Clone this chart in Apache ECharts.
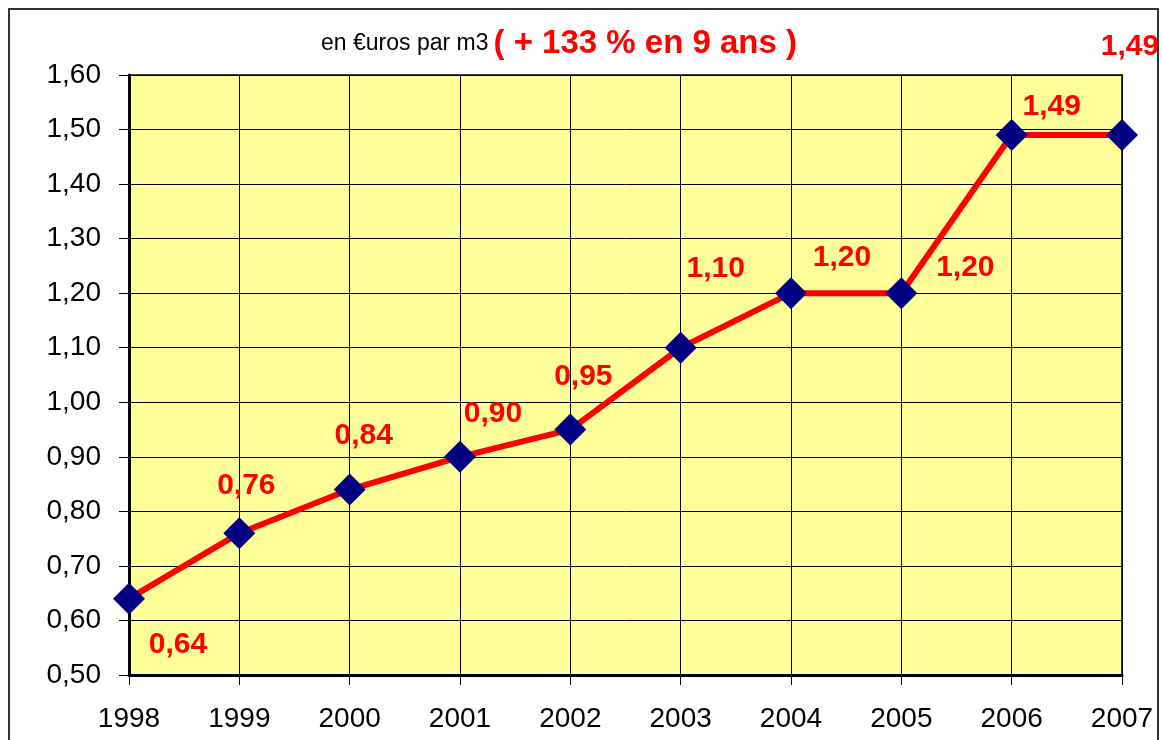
<!DOCTYPE html>
<html>
<head>
<meta charset="utf-8">
<script src="https://cdn.jsdelivr.net/npm/echarts@6/dist/echarts.min.js"></script>
<style>
  html, body { margin: 0; padding: 0; background: #fff; }
  #chart { width: 1162px; height: 740px; }
</style>
</head>
<body>
<div id="chart"></div>
<script>
var years = ['1998', '1999', '2000', '2001', '2002', '2003', '2004', '2005', '2006', '2007'];
var prices = [0.64, 0.76, 0.84, 0.90, 0.95, 1.10, 1.20, 1.20, 1.49, 1.49];

// where each value label sits relative to its point (px)
var labelOffsets = [[49, 46], [7, -47], [14, -54], [33, -43], [13, -53],
                    [35, -79], [51, -35], [64, -25], [40, -28], [8, -88]];

function fmt(v) {
    return v.toFixed(2).replace('.', ',');
}

var myChart = echarts.init(document.getElementById('chart'));

var option = {
    animation: false,
    textStyle: { fontFamily: 'Liberation Sans, Arial, sans-serif' },
    title: {
        left: 316,
        top: 22,
        text: '{a|en €uros par m3} {b|( + 133 % en 9 ans )}',
        textStyle: {
            fontWeight: 'normal',
            rich: {
                a: { fontSize: 23, color: '#000', fontWeight: 'normal', fontFamily: 'Liberation Sans' },
                b: { fontSize: 33, color: '#FF0000', fontWeight: 'bold', fontFamily: 'Liberation Sans' }
            }
        }
    },
    graphic: [{
        type: 'rect',
        shape: { x: 9, y: 9, width: 1149, height: 760 },
        style: { fill: 'none', stroke: '#333', lineWidth: 2 },
        z: -1
    }],
    grid: {
        left: 129,
        right: 40,
        top: 75,
        bottom: 65,
        show: true,
        backgroundColor: '#FFFF99',
        borderColor: '#000',
        borderWidth: 1.5
    },
    xAxis: {
        type: 'category',
        data: years,
        boundaryGap: false,
        axisLine: { lineStyle: { color: '#000', width: 3 } },
        axisTick: { show: true, length: 10, lineStyle: { color: '#000', width: 1 } },
        axisLabel: { color: '#000', fontSize: 28, margin: 30 },
        splitLine: { show: true, lineStyle: { color: '#000', width: 1 } }
    },
    yAxis: {
        type: 'value',
        min: 0.5,
        max: 1.6,
        interval: 0.1,
        axisLine: { show: true, lineStyle: { color: '#000', width: 3 } },
        axisTick: { show: true, length: 10, lineStyle: { color: '#000', width: 1 } },
        axisLabel: { color: '#000', fontSize: 28, margin: 28, formatter: function (v) { return fmt(v); } },
        splitLine: { show: true, lineStyle: { color: '#000', width: 1 } }
    },
    series: [{
        type: 'line',
        data: prices.map(function (v, i) {
            return {
                value: v,
                label: { offset: labelOffsets[i] }
            };
        }),
        lineStyle: { color: '#FF0000', width: 6 },
        symbol: 'diamond',
        symbolSize: 32,
        itemStyle: { color: '#000080' },
        label: {
            show: true,
            position: 'inside',
            color: '#FF0000',
            fontSize: 30,
            fontWeight: 'bold',
            formatter: function (p) { return fmt(p.value); }
        },
        z: 5
    }]
};

myChart.setOption(option);
</script>
</body>
</html>
